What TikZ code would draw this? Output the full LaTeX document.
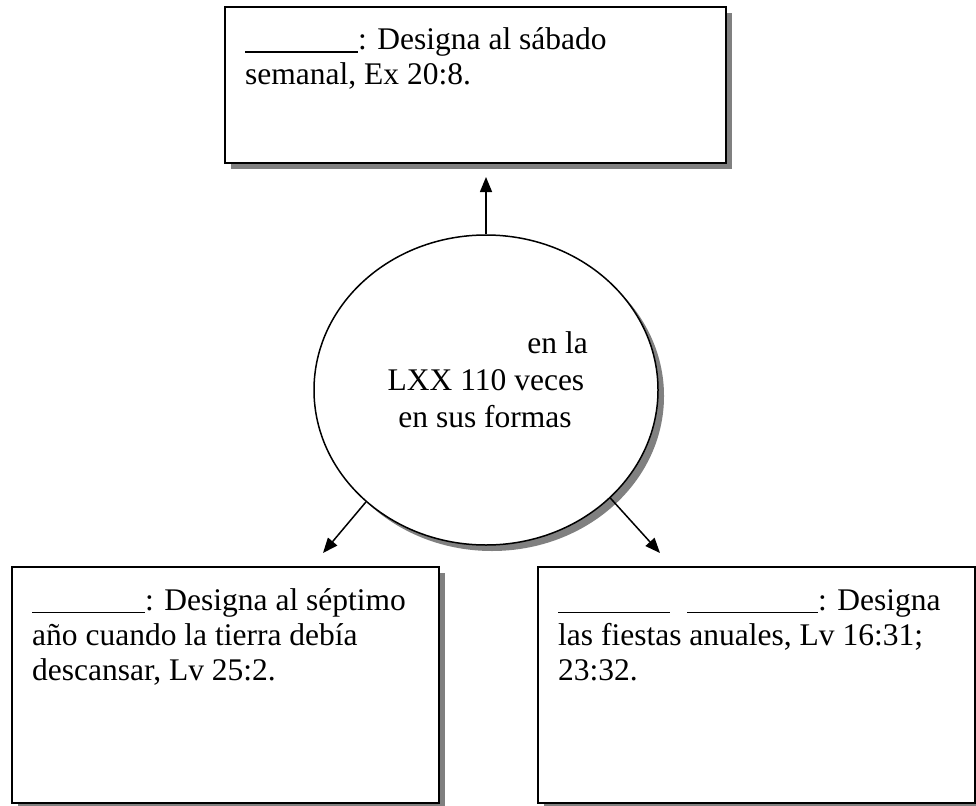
\documentclass[tikz,border=0pt]{standalone}
\usepackage{fontspec}
\setmainfont{Liberation Serif}
\usetikzlibrary{arrows.meta,shapes.geometric}
\definecolor{shadowgray}{HTML}{808080}
\newcommand{\blank}[1]{\rule[-3pt]{#1pt}{1.5pt}}
\begin{document}
\begin{tikzpicture}[x=1pt,y=-1pt,
  box/.style={draw=black, line width=2pt, fill=white, inner sep=0pt, outer sep=0pt, anchor=north west},
  shadowbox/.style={fill=shadowgray, draw=none, inner sep=0pt, outer sep=0pt, anchor=north west},
  txt/.style={font=\fontsize{31.5}{35}\selectfont, inner sep=0pt, anchor=base west},
  ctxt/.style={font=\fontsize{31.5}{37}\selectfont, inner sep=0pt, anchor=base},
  arr/.style={line width=1.5pt, -{Triangle[length=15pt,width=12pt]}}]
\useasboundingbox (0,0) rectangle (976,805);
\fill[white] (0,0) rectangle (976,805);

% top box
\node[shadowbox, minimum width=501pt, minimum height=156pt] (topsh) at (231,13) {};
\node[box, minimum width=501pt, minimum height=156pt] (top) at (225,7) {};
\node[txt] (t1) at (245,50) {\blank{113}: Designa al sábado};
\node[txt] (t2) at (245,85) {semanal, Ex 20:8.};

% circle
\node[ellipse, fill=shadowgray, draw=none, minimum width=344pt, minimum height=310pt, inner sep=0pt] (csh) at (492,396) {};
\node[ellipse, draw=black, line width=1.5pt, fill=white, minimum width=344pt, minimum height=310pt, inner sep=0pt] (c) at (486,390) {};
\node[ctxt, anchor=base east] (c1) at (588,353) {en la};
\node[ctxt] (c2) at (486,390) {LXX 110 veces};
\node[ctxt] (c3) at (485,427) {en sus formas};

% bottom left box
\node[shadowbox, minimum width=427pt, minimum height=236pt] (blsh) at (18,573) {};
\node[box, minimum width=427pt, minimum height=236pt] (bl) at (12,567) {};
\node[txt] (l1) at (32,610) {\blank{113}: Designa al séptimo};
\node[txt] (l2) at (32,645) {año cuando la tierra debía};
\node[txt] (l3) at (32,680) {descansar, Lv 25:2.};

% bottom right box
\node[shadowbox, minimum width=437pt, minimum height=236pt] (brsh) at (544,573) {};
\node[box, minimum width=437pt, minimum height=236pt] (br) at (538,567) {};
\node[txt] (r1) at (558,610) {\blank{112}\hspace{17pt}\blank{131}: Designa};
\node[txt] (r2) at (558,645) {las fiestas anuales, Lv 16:31;};
\node[txt] (r3) at (558,680) {23:32.};

% connectors
\coordinate (ttip) at (486,177);
\coordinate (ltip) at (323,553);
\coordinate (rtip) at (660,553);
\draw[arr] (c.north) -- (ttip);
\draw[arr] (c.-137) -- (ltip);
\draw[arr] (c.-41) -- (rtip);
\end{tikzpicture}
\end{document}
